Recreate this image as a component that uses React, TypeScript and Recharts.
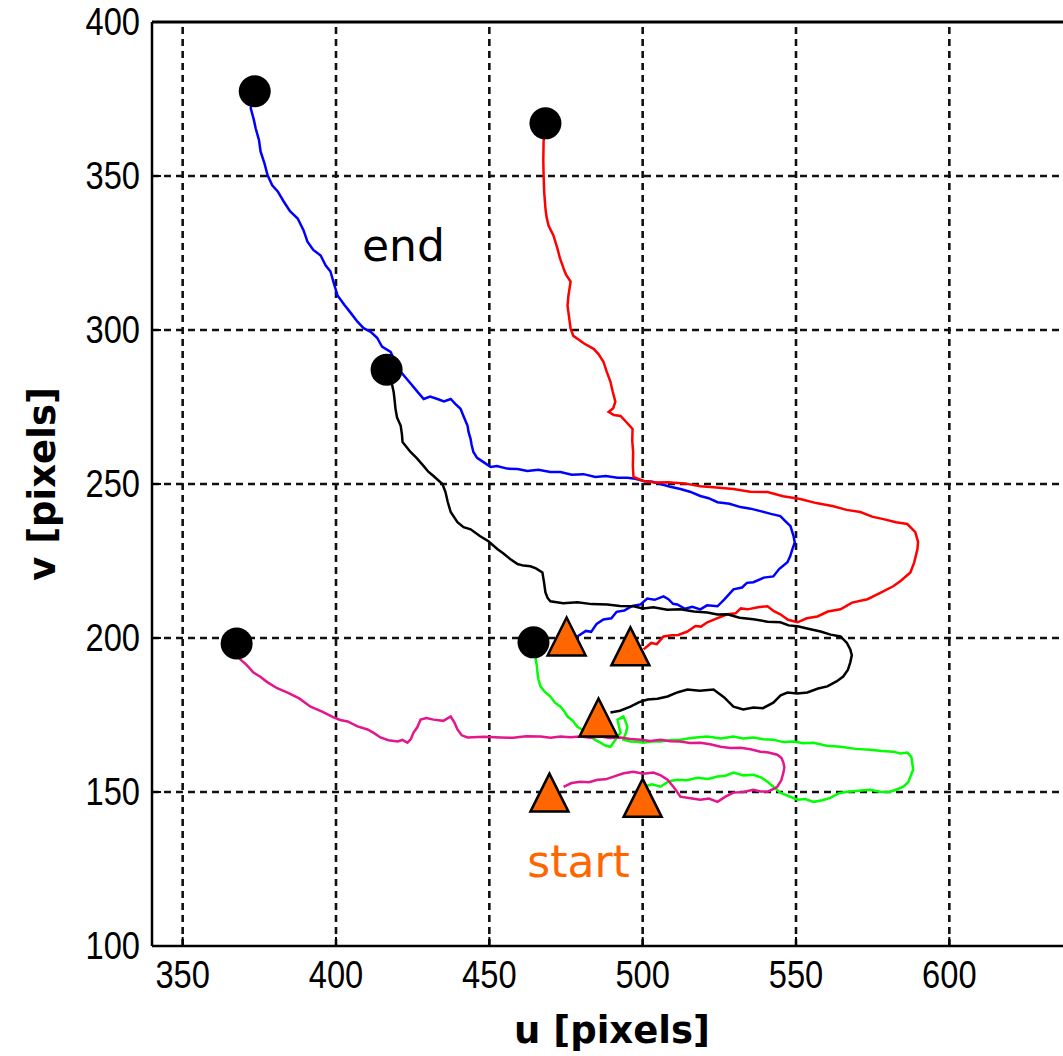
import React from 'react';
import { ComposedChart, Line, Scatter, XAxis, YAxis, ReferenceLine } from 'recharts';

// pixel trajectories, [u, v], from the start triangle to the end dot
const blueTrack: [number, number][] = [
  [478.7, 200.5], [481.5, 202.3], [483.2, 202.0], [485.0, 204.6], [487.2, 206.0], [489.8, 206.4], [491.5, 208.5],
  [494.0, 208.9], [496.6, 210.4], [499.3, 210.9], [501.5, 212.8], [503.9, 212.4], [506.8, 213.5], [508.4, 212.6],
  [509.9, 211.1], [511.3, 210.9], [513.8, 209.5], [516.2, 210.1], [518.8, 209.3], [521.0, 210.6], [524.4, 210.3],
  [526.8, 212.7], [529.6, 215.8], [532.4, 216.4], [534.0, 217.9], [536.1, 218.1], [539.5, 219.6], [542.6, 220.0],
  [544.5, 222.4], [547.2, 224.6], [548.1, 226.5], [548.8, 228.8], [549.6, 231.0], [549.2, 233.1], [548.2, 236.3],
  [546.6, 237.9], [544.9, 239.6], [541.8, 240.3], [538.4, 241.2], [535.2, 242.0], [531.9, 242.5], [528.3, 243.6],
  [524.4, 244.1], [521.5, 245.4], [518.8, 246.1], [515.4, 247.5], [512.3, 248.4], [509.0, 249.1], [505.8, 250.0],
  [503.2, 250.7], [500.3, 251.0], [497.6, 251.7], [495.0, 252.0], [491.8, 252.0], [488.0, 252.6], [484.6, 252.3],
  [480.7, 253.2], [476.9, 253.0], [473.2, 253.9], [469.9, 253.9], [466.0, 254.6], [462.4, 254.2], [459.2, 254.9],
  [455.8, 255.0], [452.5, 255.8], [450.4, 255.5], [448.1, 257.1], [446.0, 258.5], [444.8, 260.4], [444.2, 262.8],
  [443.9, 264.6], [443.2, 267.0], [442.9, 268.9], [441.8, 271.5], [440.6, 274.4], [438.9, 276.0], [437.4, 277.6],
  [435.2, 276.8], [433.1, 277.6], [430.7, 278.4], [428.6, 277.6], [426.6, 279.9], [424.2, 282.8], [421.1, 286.4],
  [419.5, 289.3], [417.8, 292.9], [415.0, 294.6], [413.4, 297.5], [411.3, 299.4], [409.0, 300.6], [407.0, 302.7],
  [404.6, 305.8], [402.7, 308.2], [400.5, 311.2], [399.4, 314.8], [398.2, 319.0], [396.6, 321.0], [395.0, 324.2],
  [392.6, 326.0], [390.7, 328.7], [389.4, 332.4], [387.5, 336.2], [385.0, 338.6], [382.9, 341.8], [381.0, 345.0],
  [379.2, 347.0], [377.7, 350.2], [376.7, 354.0], [375.4, 358.0], [374.9, 361.6], [373.8, 365.5], [373.2, 368.3],
  [372.2, 372.0], [372.8, 375.0], [373.0, 377.5],
];

const redTrack: [number, number][] = [
  [500.3, 196.3], [502.8, 198.4], [504.6, 198.0], [506.8, 200.5], [509.5, 200.9], [511.6, 201.0], [514.6, 202.1],
  [517.2, 203.9], [519.0, 203.7], [521.1, 205.1], [524.0, 206.3], [527.6, 207.7], [530.3, 208.0], [532.0, 209.6],
  [534.2, 209.3], [537.6, 210.0], [540.7, 210.3], [542.8, 208.7], [544.9, 207.7], [547.4, 205.9], [550.5, 205.1],
  [553.5, 206.4], [557.0, 207.0], [560.4, 208.6], [564.5, 209.3], [568.3, 211.5], [573.3, 212.6], [577.0, 214.4],
  [581.7, 216.8], [584.2, 218.6], [587.3, 221.3], [588.5, 224.4], [589.6, 228.8], [589.8, 231.2], [588.9, 234.4],
  [586.3, 237.0], [582.6, 237.6], [578.5, 238.6], [574.8, 239.4], [571.0, 240.9], [566.5, 241.6], [562.2, 242.8],
  [556.6, 243.8], [551.4, 245.1], [545.8, 246.0], [540.7, 247.4], [535.0, 247.5], [529.6, 248.4], [524.0, 248.9],
  [518.8, 249.3], [513.6, 250.2], [508.1, 250.6], [504.0, 250.5], [500.3, 251.0], [497.0, 252.3], [496.8, 256.0],
  [496.9, 260.2], [496.6, 264.1], [496.7, 267.9], [494.5, 270.3], [492.8, 272.1], [490.6, 272.4], [488.9, 273.4],
  [490.4, 274.6], [491.1, 276.7], [490.2, 280.1], [489.5, 283.2], [488.3, 286.4], [487.2, 289.7], [485.6, 292.2],
  [484.0, 293.9], [480.9, 295.6], [477.4, 298.1], [476.5, 300.4], [476.0, 304.2], [475.5, 307.9], [475.8, 311.2],
  [476.5, 315.7], [475.0, 318.0], [474.2, 320.0], [473.0, 323.4], [472.2, 326.5], [470.9, 330.7], [469.3, 333.9],
  [468.6, 337.0], [468.3, 339.5], [467.9, 344.6], [467.7, 350.2], [467.6, 355.0], [467.7, 361.3], [468.3, 365.5],
];

const blackTrack: [number, number][] = [
  [489.5, 175.8], [492.6, 176.4], [496.0, 177.7], [498.9, 179.2], [501.6, 180.0], [504.8, 180.3], [508.1, 181.0],
  [511.5, 182.4], [514.6, 183.3], [518.6, 182.9], [523.1, 183.3], [526.5, 180.8], [529.6, 177.7], [532.8, 176.8],
  [536.1, 177.4], [539.2, 177.2], [542.6, 179.0], [545.0, 181.4], [547.2, 182.3], [550.4, 182.0], [553.7, 182.3],
  [557.2, 183.6], [560.2, 184.3], [563.2, 185.9], [565.4, 187.5], [566.9, 189.6], [567.7, 192.1], [568.2, 194.4],
  [567.7, 196.3], [566.6, 198.4], [564.5, 200.5], [561.3, 201.1], [558.0, 202.1], [554.0, 203.0], [550.5, 203.8],
  [547.6, 204.1], [544.9, 205.1], [540.7, 205.3], [536.1, 206.1], [531.6, 206.6], [527.6, 207.7], [524.4, 207.6],
  [521.1, 208.3], [516.7, 208.6], [512.3, 209.3], [508.0, 209.2], [503.5, 210.0], [500.1, 209.6], [497.0, 210.3],
  [492.6, 210.4], [488.5, 210.9], [483.4, 211.0], [478.7, 211.6], [474.1, 211.3], [469.9, 211.9], [469.0, 213.0],
  [468.3, 214.8], [467.8, 218.3], [467.3, 221.3], [465.2, 222.6], [463.4, 223.3], [461.1, 223.5], [459.2, 224.0],
  [456.9, 225.6], [454.5, 227.5], [452.7, 228.8], [449.7, 231.4], [446.9, 233.1], [443.9, 235.3], [441.6, 236.0],
  [439.6, 237.6], [437.4, 240.9], [436.4, 244.3], [435.7, 247.4], [434.7, 250.0], [431.8, 252.6], [430.1, 254.0],
  [428.6, 255.8], [426.4, 258.3], [424.3, 260.4], [421.7, 263.6], [421.5, 266.1], [421.1, 268.9], [419.9, 271.6],
  [419.4, 274.4], [419.1, 277.3], [418.8, 279.9], [418.2, 282.6], [417.8, 285.1], [417.2, 287.0],
];

const greenTrack: [number, number][] = [
  [500.3, 151.7], [503.0, 152.5], [505.8, 151.7], [508.6, 153.5], [511.3, 154.0], [514.4, 153.8], [517.9, 154.6],
  [521.3, 154.2], [524.4, 155.0], [527.0, 155.3], [529.6, 156.3], [532.9, 155.4], [536.1, 155.6], [538.7, 154.7],
  [540.7, 153.3], [543.0, 151.4], [544.9, 149.8], [547.8, 148.6], [550.5, 147.5], [553.0, 147.7], [555.7, 146.8],
  [558.6, 147.3], [561.2, 148.1], [564.0, 149.6], [566.8, 150.1], [570.5, 150.4], [574.2, 150.7], [577.6, 150.0],
  [580.8, 150.1], [583.0, 150.9], [585.0, 151.7], [586.6, 153.2], [587.3, 155.0], [588.2, 157.3], [587.9, 159.5],
  [587.6, 161.4], [586.3, 162.8], [584.0, 162.5], [581.7, 163.1], [578.0, 163.3], [574.2, 163.7], [569.5, 164.0],
  [564.5, 164.7], [560.0, 165.0], [555.7, 166.0], [552.4, 165.8], [549.2, 166.4], [545.8, 166.2], [542.6, 167.0],
  [539.4, 167.1], [536.1, 167.7], [532.8, 167.4], [529.6, 168.0], [525.5, 167.4], [521.1, 168.0], [516.5, 167.6],
  [512.3, 167.0], [509.0, 166.8], [505.8, 166.4], [503.0, 166.5], [500.3, 166.0], [498.2, 166.3], [496.0, 166.4],
  [493.7, 167.0], [494.6, 169.4], [495.0, 171.2], [494.4, 173.0], [493.7, 174.5], [491.8, 173.5], [492.3, 171.2],
  [492.8, 169.3], [491.0, 166.8], [489.5, 164.7], [487.8, 165.1], [486.2, 166.0], [484.5, 166.9], [483.0, 168.0],
  [480.8, 169.9], [478.7, 171.2], [477.2, 173.1], [475.5, 174.5], [474.3, 176.4], [473.2, 177.7], [471.4, 179.0],
  [469.9, 181.0], [468.1, 182.5], [466.7, 184.3], [466.0, 186.6], [465.7, 188.8], [465.5, 191.0], [465.1, 193.0],
  [465.3, 195.3], [464.9, 197.0],
];

const magentaTrack: [number, number][] = [
  [474.2, 151.7], [476.8, 152.9], [479.7, 153.3], [482.5, 153.2], [485.3, 154.0], [487.9, 154.1], [490.5, 155.0],
  [493.8, 156.1], [497.0, 156.6], [500.2, 155.9], [503.5, 156.3], [505.9, 155.4], [508.1, 154.0], [510.4, 151.2],
  [512.3, 148.5], [515.6, 148.0], [518.8, 147.5], [521.6, 147.9], [524.4, 146.8], [527.0, 148.5], [529.6, 149.8],
  [532.9, 150.0], [536.1, 150.7], [538.4, 150.2], [540.7, 150.1], [542.5, 150.9], [543.9, 151.7], [545.2, 153.8],
  [545.9, 156.3], [546.2, 158.0], [545.9, 159.5], [545.3, 161.0], [543.9, 162.1], [541.0, 162.8], [538.4, 163.1],
  [535.2, 163.9], [531.9, 164.4], [528.6, 164.3], [525.4, 164.7], [522.0, 165.5], [518.8, 166.0], [515.4, 165.9],
  [512.3, 166.4], [509.1, 166.5], [505.8, 167.0], [502.5, 166.6], [499.3, 167.0], [496.0, 167.2], [492.8, 167.7],
  [489.4, 167.5], [486.2, 168.0], [483.0, 167.6], [479.7, 168.0], [476.4, 167.8], [473.2, 168.0], [470.0, 167.6],
  [466.7, 168.0], [462.0, 168.1], [457.8, 167.6], [453.6, 167.7], [448.2, 167.9], [442.9, 167.7], [441.0, 168.4],
  [439.6, 170.3], [438.6, 172.6], [437.4, 174.5], [435.0, 173.1], [431.8, 173.5], [429.5, 174.0], [427.6, 173.5],
  [426.5, 171.0], [425.3, 169.3], [424.4, 167.2], [423.3, 166.0], [421.6, 166.9], [420.1, 166.4], [417.1, 166.8],
  [414.5, 167.7], [412.3, 169.2], [410.3, 170.3], [407.0, 171.3], [403.8, 172.9], [401.4, 173.4], [399.2, 174.2],
  [395.5, 176.1], [391.7, 177.7], [388.0, 180.4], [384.2, 182.3], [380.8, 183.7], [377.7, 185.6], [375.3, 187.4],
  [373.1, 188.8], [370.9, 191.2], [368.9, 193.0], [367.4, 194.6], [366.6, 195.3], [367.6, 197.5],
];

const endPoints: [number, number][] = [[373.5, 377.5], [468.3, 367.1], [416.5, 287.1], [367.6, 198.2], [464.4, 198.6]];
const startPoints: [number, number][] = [[475.2, 200.5], [496.0, 197.3], [485.6, 174.2], [469.6, 149.8], [500.0, 148.1]];

const textNotes = [
  { u: 422.0, v: 327.4, text: 'end' },
  { u: 479.1, v: 127.3, text: 'start' },
];

const uTicks = [350, 400, 450, 500, 550, 600];
const vTicks = [100, 150, 200, 250, 300, 350, 400];

const tracks = [
  { name: 'blue', color: '#0000ff', points: blueTrack },
  { name: 'red', color: '#ff0000', points: redTrack },
  { name: 'black', color: '#000000', points: blackTrack },
  { name: 'green', color: '#00ff00', points: greenTrack },
  { name: 'magenta', color: '#e3168c', points: magentaTrack },
];

const toRows = (pts: [number, number][]) => pts.map(([u, v]) => ({ u, v }));

const ORANGE = '#ff6600';
const TICK_FAMILY = 'Liberation Sans, Arial, sans-serif';
const labelFont = { fontSize: 37, fontFamily: 'DejaVu Sans, Verdana, sans-serif', fontWeight: 'bold', fill: '#000' };

// matlab-ish narrow tick labels
const UTick = (props: any) => {
  const { x, y, payload } = props;
  return (
    <text transform={`translate(${x},${y + 25}) scale(0.86,1)`} textAnchor="middle" fontSize={38} fontFamily={TICK_FAMILY} fill="#000">
      {payload.value}
    </text>
  );
};

const VTick = (props: any) => {
  const { x, y, payload } = props;
  return (
    <text transform={`translate(${x},${y + 13}) scale(0.86,1)`} textAnchor="end" fontSize={38} fontFamily={TICK_FAMILY} fill="#000">
      {payload.value}
    </text>
  );
};

const EndDot = (props: any) => {
  const { cx, cy } = props;
  return <circle cx={cx} cy={cy} r={16} fill="#000" />;
};

const StartTriangle = (props: any) => {
  const { cx, cy } = props;
  const w = 38;
  const h = 38;
  const pts = `${cx},${cy - h / 2} ${cx + w / 2},${cy + h / 2} ${cx - w / 2},${cy + h / 2}`;
  return <polygon points={pts} fill={ORANGE} stroke="#000" strokeWidth={2.5} />;
};

const NoteText = (props: any) => {
  const { cx, cy, payload } = props;
  return (
    <text
      x={cx}
      y={cy}
      textAnchor="middle"
      dominantBaseline="central"
      fontSize={44}
      fontFamily="DejaVu Sans, Verdana, sans-serif"
      fill={payload.text === 'start' ? ORANGE : '#000'}
    >
      {payload.text}
    </text>
  );
};

export default function App() {
  return (
    <div style={{ position: 'absolute', left: 0, top: 0, width: 1063, height: 1056, overflow: 'hidden', background: '#fff' }}>
      <ComposedChart width={1080} height={1056} margin={{ top: 21, right: 8, left: 0, bottom: 0 }}>
        {uTicks.map((u) => (
          <ReferenceLine key={`gu${u}`} x={u} stroke="#111" strokeWidth={2.6} strokeDasharray="7 5" />
        ))}
        {vTicks.slice(1, -1).map((v) => (
          <ReferenceLine key={`gv${v}`} y={v} stroke="#111" strokeWidth={2.6} strokeDasharray="7 5" />
        ))}
        <XAxis
          type="number"
          dataKey="u"
          domain={[340, 640]}
          ticks={uTicks}
          allowDataOverflow
          height={110}
          tick={<UTick />}
          tickSize={-9}
          tickMargin={26}
          tickLine={{ stroke: '#000', strokeWidth: 2 }}
          axisLine={{ stroke: '#000', strokeWidth: 2.5 }}
          label={{ value: 'u [pixels]', position: 'insideBottom', offset: 13, style: labelFont }}
        />
        <XAxis
          xAxisId="top"
          orientation="top"
          type="number"
          domain={[340, 640]}
          ticks={uTicks}
          allowDataOverflow
          height={1}
          tick={false}
          tickSize={-9}
          tickLine={{ stroke: '#000', strokeWidth: 2 }}
          axisLine={{ stroke: '#000', strokeWidth: 3 }}
        />
        <YAxis
          type="number"
          dataKey="v"
          domain={[100, 400]}
          ticks={vTicks}
          allowDataOverflow
          width={152}
          tick={<VTick />}
          tickSize={-9}
          tickMargin={21}
          tickLine={{ stroke: '#000', strokeWidth: 2 }}
          axisLine={{ stroke: '#000', strokeWidth: 2.5 }}
          label={{
            value: 'v [pixels]',
            angle: -90,
            position: 'insideLeft',
            offset: 42,
            style: { ...labelFont, textAnchor: 'middle' },
          }}
        />
        {tracks.map((t) => (
          <Line
            key={t.name}
            data={toRows(t.points)}
            dataKey="v"
            stroke={t.color}
            strokeWidth={2.5}
            dot={false}
            activeDot={false}
            isAnimationActive={false}
          />
        ))}
        <Scatter data={toRows(endPoints)} dataKey="v" shape={EndDot} isAnimationActive={false} />
        <Scatter data={toRows(startPoints)} dataKey="v" shape={StartTriangle} isAnimationActive={false} />
        <Scatter data={textNotes} dataKey="v" shape={NoteText} isAnimationActive={false} />
      </ComposedChart>
    </div>
  );
}
